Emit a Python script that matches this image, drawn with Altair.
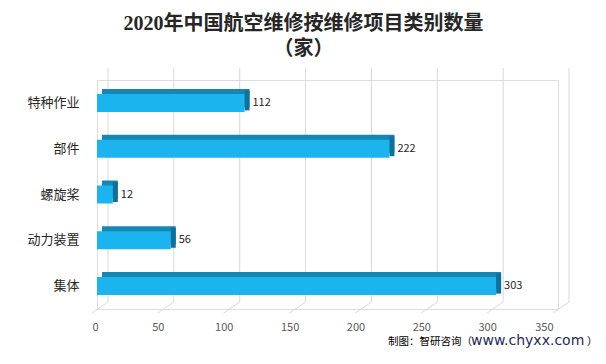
import altair as alt
import pandas as pd

categories = ["特种作业", "部件", "螺旋桨", "动力装置", "集体"]
values = [112, 222, 12, 56, 303]
ticks = [0, 50, 100, 150, 200, 250, 300, 350]

title_lines = ["2020年中国航空维修按维修项目类别数量", "（家）"]
source_a = "制图：智研咨询（"
source_b = "www.chyxx.com"
source_c = "）"

bars = pd.DataFrame({"cat": categories, "val": values})
grid = pd.DataFrame({"t": ticks})

CJK = "Noto Sans CJK SC"
W, H = 461, 229

xs = alt.Scale(domain=[0, 350], nice=False, zero=True)
ys = alt.Scale(domain=categories, paddingInner=0, paddingOuter=0)

xaxis = alt.Axis(
    values=ticks, grid=False, domain=False, ticks=False, labelOffset=-5,
    labelPadding=12, labelColor="#595959", labelFontSize=11, labelFont=CJK,
)
yaxis = alt.Axis(domain=False, ticks=False, labelPadding=18, labelColor="#262626",
                 labelFontSize=13, labelFont=CJK)

X_T = alt.X("t:Q", scale=xs, title=None, axis=xaxis)
X_V = alt.X("val:Q", scale=xs, title=None, axis=xaxis)
Y_C = alt.Y("cat:N", scale=ys, sort=categories, title=None, axis=yaxis)

gridlines = alt.Chart(grid).mark_rule(color="#d9d9d9", strokeWidth=1, xOffset=11, x2Offset=11).encode(
    x=X_T,
    x2="t:Q",
    y=alt.value(-12),
    y2=alt.value(222),
)
diag = alt.Chart(grid).mark_rule(color="#d9d9d9", strokeWidth=1, xOffset=11, x2Offset=-5).encode(
    x=X_T,
    x2="t:Q",
    y=alt.value(222),
    y2=alt.value(233),
)

back = alt.Chart(bars).mark_bar(color="#1686B3", height=18, xOffset=5, x2Offset=5, yOffset=-5).encode(
    x=X_V,
    x2=alt.datum(0),
    y=Y_C,
)
side = alt.Chart(bars).mark_bar(color="#10709A", height=20, xOffset=0, x2Offset=5, yOffset=-2.5).encode(
    x=X_V,
    x2="val:Q",
    y=Y_C,
)
front = alt.Chart(bars).mark_bar(color="#1BB4EE", height=18).encode(
    x=X_V,
    y=Y_C,
)
labels = alt.Chart(bars).mark_text(align="left", baseline="middle", dx=8, fontSize=11,
                                   font=CJK, color="#262626").encode(
    x=X_V,
    y=Y_C,
    text="val:Q",
)

src = pd.DataFrame({"s": [source_a], "b": [source_b], "c": [source_c]})
srcA = alt.Chart(src).mark_text(align="left", baseline="alphabetic", fontSize=10.5, font=CJK, color="#000000").encode(
    x=alt.value(291), y=alt.value(265), text="s:N")
srcB = alt.Chart(src).mark_text(align="left", baseline="alphabetic", fontSize=14, font="DejaVu Sans", color="#1F2A5C").encode(
    x=alt.value(374), y=alt.value(265), text="b:N")
srcC = alt.Chart(src).mark_text(align="left", baseline="alphabetic", fontSize=10.5, font=CJK, color="#000000").encode(
    x=alt.value(490), y=alt.value(265), text="c:N")

chart = alt.layer(gridlines, diag, back, side, front, labels, srcA, srcB, srcC).properties(
    width=W,
    height=H,
    title=alt.TitleParams(
        text=title_lines, anchor="middle", dx=-24, offset=9, lineHeight=25,
        font="Liberation Serif, Noto Sans CJK SC", fontSize=20, fontWeight="bold", color="#262626",
    ),
    autosize=alt.AutoSizeParams(type="none"),
    padding={"left": 89, "top": 72, "right": 40, "bottom": 40},
).configure_view(stroke=None).configure(background="white")

chart.save("out.html", embed_options={"renderer": "svg", "actions": False})
